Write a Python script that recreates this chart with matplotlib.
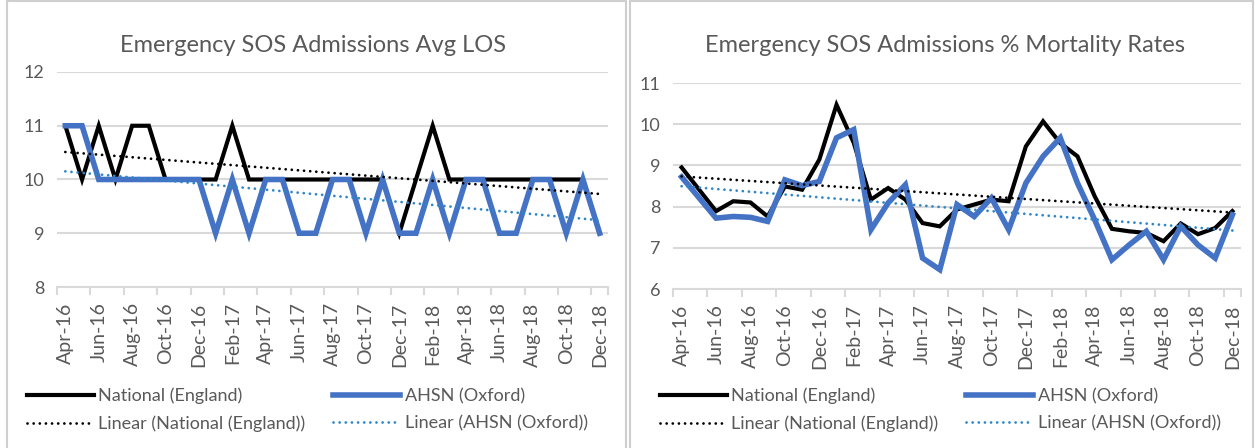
import numpy as np
import matplotlib
matplotlib.use('Agg')
import matplotlib.pyplot as plt
from matplotlib.patches import Rectangle

# -----------------------------------------------------------------------------
# Data
# -----------------------------------------------------------------------------
months = ['Apr-16', 'May-16', 'Jun-16', 'Jul-16', 'Aug-16', 'Sep-16', 'Oct-16', 'Nov-16',
          'Dec-16', 'Jan-17', 'Feb-17', 'Mar-17', 'Apr-17', 'May-17', 'Jun-17', 'Jul-17',
          'Aug-17', 'Sep-17', 'Oct-17', 'Nov-17', 'Dec-17', 'Jan-18', 'Feb-18', 'Mar-18',
          'Apr-18', 'May-18', 'Jun-18', 'Jul-18', 'Aug-18', 'Sep-18', 'Oct-18', 'Nov-18',
          'Dec-18']

los_national = [11, 10, 11, 10, 11, 11, 10, 10, 10, 10, 11, 10, 10, 10, 10, 10, 10,
                10, 10, 10, 9, 10, 11, 10, 10, 10, 10, 10, 10, 10, 10, 10, 9]
los_ahsn = [11, 11, 10, 10, 10, 10, 10, 10, 10, 9, 10, 9, 10, 10, 9, 9, 10,
            10, 9, 10, 9, 9, 10, 9, 10, 10, 9, 9, 10, 10, 9, 10, 9]

mort_national = [8.95, 8.42, 7.89, 8.13, 8.10, 7.76, 8.49, 8.41, 9.14, 10.47, 9.55,
                 8.17, 8.45, 8.17, 7.60, 7.52, 7.93, 8.05, 8.17, 8.13, 9.46, 10.07,
                 9.54, 9.22, 8.25, 7.46, 7.40, 7.36, 7.16, 7.59, 7.33, 7.48, 7.89]
mort_ahsn = [8.72, 8.22, 7.72, 7.76, 7.74, 7.64, 8.65, 8.51, 8.61, 9.67, 9.87,
             7.44, 8.09, 8.53, 6.75, 6.47, 8.05, 7.76, 8.21, 7.44, 8.57, 9.22,
             9.67, 8.57, 7.68, 6.71, 7.07, 7.40, 6.71, 7.52, 7.07, 6.75, 7.80]

series_names = ['National (England)', 'AHSN (Oxford)']

# -----------------------------------------------------------------------------
# Style
# -----------------------------------------------------------------------------
plt.rcParams['font.family'] = ['Lato', 'DejaVu Sans']
text_col = '#595959'
grid_col = '#d9d9d9'
black = '#000000'
blue = '#4472c4'
trend_blue = '#2e86c9'

W, H = 1255, 448
fig = plt.figure(figsize=(W / 100, H / 100), dpi=100)

# panel borders (bottom edge runs off the picture, as in the screenshot)
for x0, x1 in [(7, 626), (630, 1253)]:
    fig.patches.append(Rectangle((x0 / W, -10 / H), (x1 - x0) / W, (H + 9) / H,
                                 transform=fig.transFigure, fill=False,
                                 edgecolor='#cfcfcf', linewidth=1.5))

x = np.arange(len(months))


def draw_panel(ax, nat, ahsn, ylim, title, title_x, legend_x):
    ax.plot(x, nat, color=black, linewidth=3.0, zorder=3, solid_joinstyle='miter',
            label=series_names[0])
    ax.plot(x, ahsn, color=blue, linewidth=4.0, zorder=4, solid_joinstyle='miter',
            label=series_names[1])

    # linear trend lines
    for vals, col, name in [(nat, black, series_names[0]), (ahsn, trend_blue, series_names[1])]:
        k, b = np.polyfit(x, vals, 1)
        ax.plot(x, k * x + b, color=col, linewidth=2.0, linestyle=(0, (0.01, 2.2)),
                dash_capstyle='round', zorder=5, label=f'Linear ({name})')

    ax.set_xlim(-0.5, len(months) - 0.5)
    ax.set_ylim(*ylim)
    ax.set_yticks(np.arange(ylim[0], ylim[1] + 1))
    ax.yaxis.grid(True, color=grid_col, linewidth=1.5)
    ax.set_axisbelow(True)
    for s in ['top', 'right', 'left']:
        ax.spines[s].set_visible(False)
    ax.spines['bottom'].set_color(grid_col)
    ax.spines['bottom'].set_linewidth(1.5)
    ax.tick_params(axis='y', length=0, labelsize=13, labelcolor=text_col, pad=9)

    ax.set_xticks(x[::2])
    ax.set_xticklabels(months[::2], rotation=90)
    ax.set_xticks(list(np.arange(-0.5, len(months), 2)) + [len(months) - 0.5], minor=True)
    ax.tick_params(axis='x', which='major', length=0, labelsize=14, labelcolor=text_col, pad=11)
    ax.tick_params(axis='x', which='minor', length=6, color=grid_col, width=1.5)

    handles, labels = ax.get_legend_handles_labels()
    order = [0, 2, 1, 3]
    fig.legend([handles[i] for i in order], [labels[i] for i in order],
               loc='center left', bbox_to_anchor=(legend_x / W, 1 - 410 / H), ncol=2,
               frameon=False, fontsize=13, labelcolor=text_col, handlelength=3.7,
               handletextpad=0.25, columnspacing=1.55, labelspacing=0.62,
               borderpad=0, borderaxespad=0)

    fig.text(title_x / W, 1 - 46 / H, title, ha='center', va='center',
             fontsize=17, color=text_col)


ax1 = fig.add_axes([57 / W, 1 - 287 / H, 551 / W, 215 / H])
draw_panel(ax1, los_national, los_ahsn, (8, 12), 'Emergency SOS Admissions Avg LOS', 313, 27)

ax2 = fig.add_axes([673 / W, 1 - 289 / H, 568 / W, 206 / H])
draw_panel(ax2, mort_national, mort_ahsn, (6, 11),
           'Emergency SOS Admissions % Mortality Rates', 945, 660)

fig.savefig('out.png', dpi=100)
